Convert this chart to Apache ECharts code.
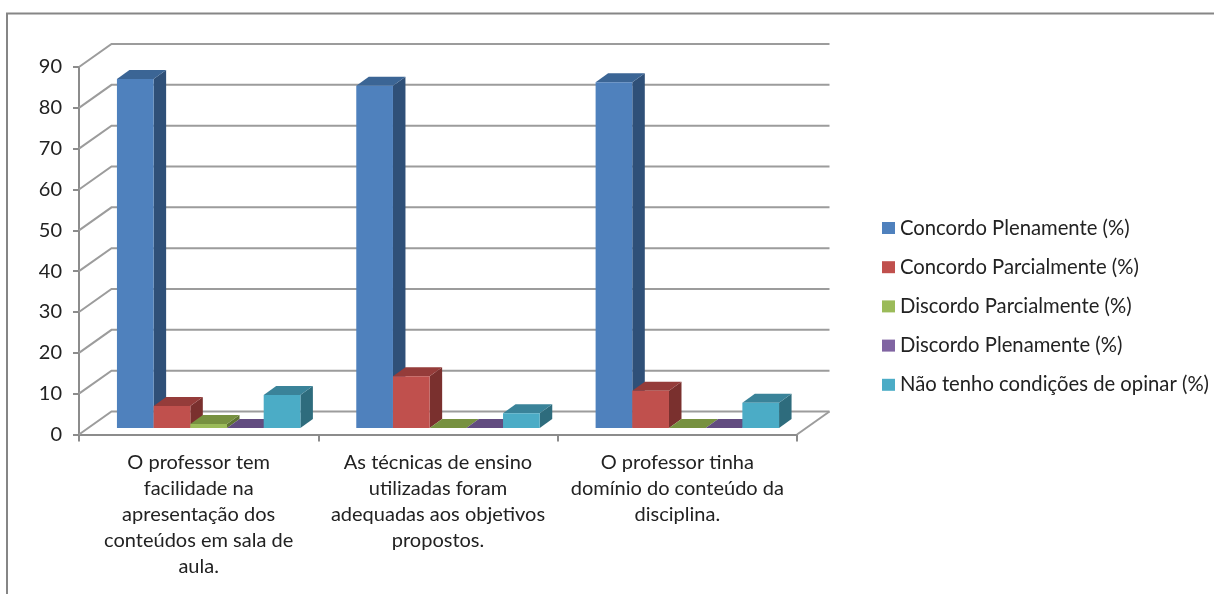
<!DOCTYPE html>
<html>
<head>
<meta charset="utf-8">
<style>html,body{margin:0;padding:0;background:#fff}#c{width:1214px;height:594px}</style>
<script src="https://cdn.jsdelivr.net/npm/echarts@6/dist/echarts.min.js"></script>
</head>
<body>
<div id="c"></div>
<script>
const categories = [
  "O professor tem\nfacilidade na\napresentação dos\nconteúdos em sala de\naula.",
  "As técnicas de ensino\nutilizadas foram\nadequadas aos objetivos\npropostos.",
  "O professor tinha\ndomínio do conteúdo da\ndisciplina."
];
const concordoPlenamente = [85.5, 83.8, 84.7];
const concordoParcialmente = [5.4, 12.7, 9.1];
const discordoParcialmente = [1.0, 0, 0];
const discordoPlenamente = [0, 0, 0];
const naoTenhoCondicoes = [8.1, 3.6, 6.2];
const yTicks = [0, 10, 20, 30, 40, 50, 60, 70, 80, 90];
const seriesNames = ["Concordo Plenamente (%)", "Concordo Parcialmente (%)", "Discordo Parcialmente (%)", "Discordo Plenamente (%)", "Não tenho condições de opinar (%)"];
const seriesValues = [concordoPlenamente, concordoParcialmente, discordoParcialmente, discordoPlenamente, naoTenhoCondicoes];
const frontColors = ["#4F81BD", "#C0504D", "#9BBB59", "#8064A2", "#4BACC6"];
const topColors = ["#3B6595", "#953C3A", "#779140", "#624C80", "#3A8399"];
const sideColors = ["#2F5078", "#7A302E", "#5F7432", "#4E3C66", "#2E6C7D"];

const wallDX = 32.5, wallDY = -23;
const barDX = 10, barDY = -6.5;
const depthX = 12.5, depthY = -9;
const gridColor = "#9C9C9C", axisColor = "#8C8C8C", textColor = "#222222";
const font = "Lato";

function wallItem(params, api) {
  const cs = params.coordSys;
  const v = api.value(0);
  const y = api.coord([0, v])[1];
  const x0 = cs.x, x1 = cs.x + cs.width;
  const children = [{
    type: "polyline",
    shape: { points: [[x0, y], [x0 + wallDX, y + wallDY], [x1 + wallDX, y + wallDY]] },
    style: { stroke: gridColor, lineWidth: 2, fill: null }
  }];
  if (v === 0) {
    children.push({
      type: "line",
      shape: { x1: x1, y1: y, x2: x1 + wallDX, y2: y + wallDY },
      style: { stroke: gridColor, lineWidth: 2 }
    });
  }
  return { type: "group", children };
}

function barRenderer(k) {
  return function (params, api) {
    const i = api.value(0), v = api.value(1);
    const w = api.size([1, 0])[0] * 0.1533;
    const c = api.coord([i, v]);
    const b = api.coord([i, 0]);
    const x0 = c[0] + barDX + (k - 2.5) * w, x1 = x0 + w;
    const yT = c[1] + barDY, yB = b[1] + barDY;
    return {
      type: "group",
      children: [
        { type: "polygon", shape: { points: [[x1, yB], [x1 + depthX, yB + depthY], [x1 + depthX, yT + depthY], [x1, yT]] }, style: { fill: sideColors[k] } },
        { type: "polygon", shape: { points: [[x0, yT], [x0 + depthX, yT + depthY], [x1 + depthX, yT + depthY], [x1, yT]] }, style: { fill: topColors[k] } },
        { type: "rect", shape: { x: x0, y: yT, width: w, height: yB - yT }, style: { fill: frontColors[k] } }
      ]
    };
  };
}

const chart = echarts.init(document.getElementById("c"), null, { renderer: "canvas" });
chart.setOption({
  animation: false,
  backgroundColor: "#fff",
  textStyle: { fontFamily: font },
  graphic: [{
    type: "polyline",
    silent: true,
    shape: { points: [[7, 594], [7, 13.5], [1214, 13.5]] },
    style: { stroke: "#868686", lineWidth: 2, fill: null }
  }],
  grid: { left: 79, top: 67, width: 718, height: 367.5 },
  legend: {
    data: seriesNames,
    orient: "vertical",
    left: 877,
    top: 213,
    icon: "rect",
    itemWidth: 13,
    itemHeight: 12,
    itemGap: 19.2,
    selectedMode: false,
    textStyle: { fontFamily: font, fontSize: 20.25, color: textColor }
  },
  xAxis: {
    type: "category",
    data: categories,
    boundaryGap: true,
    axisLine: { lineStyle: { color: axisColor, width: 2 } },
    axisTick: { show: true, length: 7, lineStyle: { color: axisColor, width: 2 } },
    axisLabel: { interval: 0, margin: 15, fontFamily: font, fontSize: 20, lineHeight: 26, color: textColor, align: "center" },
    splitLine: { show: false }
  },
  yAxis: {
    type: "value",
    min: 0,
    max: 90,
    interval: 10,
    axisLine: { show: true, lineStyle: { color: axisColor, width: 2 } },
    axisTick: { show: true, length: 6, lineStyle: { color: axisColor, width: 2 } },
    axisLabel: { margin: 17, fontFamily: font, fontSize: 20, color: textColor, padding: [2, 0, 0, 0] },
    splitLine: { show: false }
  },
  series: [
    {
      type: "custom",
      name: "Grade",
      coordinateSystem: "cartesian2d",
      silent: true,
      z: 1,
      encode: { y: 0 },
      data: yTicks.map(v => [v]),
      renderItem: wallItem
    }
  ].concat(seriesNames.map((name, k) => ({
    type: "custom",
    name,
    coordinateSystem: "cartesian2d",
    z: 3,
    itemStyle: { color: frontColors[k] },
    encode: { x: 0, y: 1 },
    data: seriesValues[k].map((v, i) => [i, v]),
    renderItem: barRenderer(k)
  })))
});
</script>
</body>
</html>
